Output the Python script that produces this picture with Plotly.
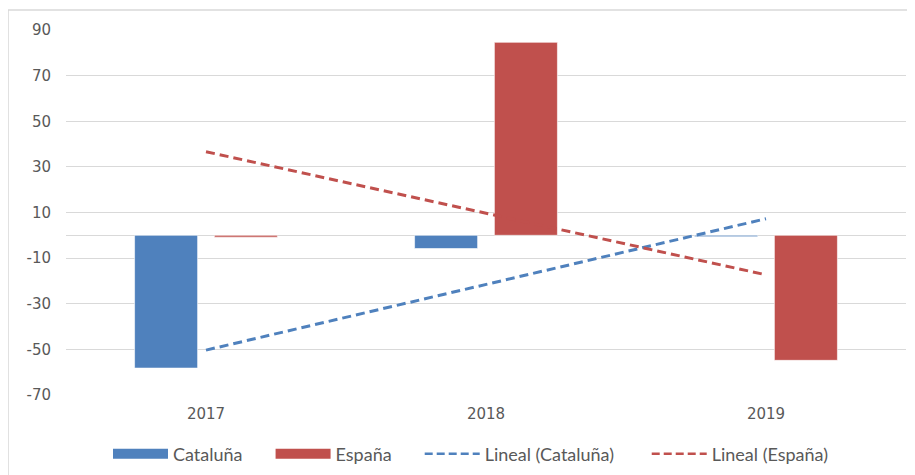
import numpy as np
import plotly.graph_objects as go

YEARS = ["2017", "2018", "2019"]
CATALUNYA = [-58.2, -5.8, -0.6]
ESPANA = [-0.8, 84.6, -54.8]
Y_TICKS = [-70, -50, -30, -10, 10, 30, 50, 70, 90]
Y_TICK_TEXT = ["-70", "-50", "-30", "-10", "10", "30", "50", "70", "90"]

BLUE = "#4F81BD"
RED = "#C0504D"
GRID = "#D9D9D9"
TEXT = "#595959"
NB = "\u00a0"


def trend(values):
    # recta de regresión lineal como la "Línea de tendencia" de Excel
    xs = np.arange(len(values))
    slope, icpt = np.polyfit(xs, values, 1)
    return (slope * xs + icpt).tolist()


fig = go.Figure()

fig.add_trace(go.Bar(
    x=YEARS, y=CATALUNYA, name="Cataluña",
    marker=dict(color=BLUE, line=dict(color="rgba(255,255,255,0.6)", width=1)),
    showlegend=False,
))
fig.add_trace(go.Bar(
    x=YEARS, y=ESPANA, name="España",
    marker=dict(color=RED, line=dict(color="rgba(255,255,255,0.6)", width=1)),
    showlegend=False,
))

fig.add_trace(go.Scatter(
    x=YEARS, y=trend(CATALUNYA), mode="lines", name="Lineal (Cataluña)",
    line=dict(color=BLUE, width=3, dash="9px,5px"), showlegend=False,
))
fig.add_trace(go.Scatter(
    x=YEARS, y=trend(ESPANA), mode="lines", name="Lineal (España)",
    line=dict(color=RED, width=3, dash="9px,5px"), showlegend=False,
))

# entradas de leyenda con muestra ancha, estilo Excel
for name, color, width, dash in [
    ("Cataluña" + NB * 5, BLUE, 10, "solid"),
    ("España" + NB * 5, RED, 10, "solid"),
    ("Lineal (Cataluña)" + NB * 6, BLUE, 2.5, "8px,4px"),
    ("Lineal (España)", RED, 2.5, "8px,4px"),
]:
    fig.add_trace(go.Scatter(
        x=[None], y=[None], mode="lines", name=name,
        line=dict(color=color, width=width, dash=dash),
    ))

fig.add_shape(
    type="rect", xref="paper", yref="paper",
    x0=-0.069, x1=1.2, y0=-0.5, y1=1.055,
    line=dict(color=GRID, width=1.5), fillcolor="rgba(0,0,0,0)",
)

# la página añade 8 px de margen al body: se compensa aquí
fig.update_layout(
    width=907, height=467,
    margin=dict(l=58, r=9, t=22, b=80),
    paper_bgcolor="white", plot_bgcolor="white",
    barmode="group", bargap=0.43, bargroupgap=0.21,
    font=dict(family="DejaVu Sans", size=15, color=TEXT),
    legend=dict(
        orientation="h", x=0.05, xanchor="left",
        yref="container", y=0.045, yanchor="middle",
        font=dict(family="Lato", size=18, color=TEXT),
        itemwidth=55, tracegroupgap=0, bgcolor="rgba(0,0,0,0)",
    ),
)
fig.update_xaxes(
    type="category", showline=False, showgrid=False, ticks="",
    ticklabelstandoff=8, automargin=False,
    tickfont=dict(family="DejaVu Sans", size=15, color=TEXT),
)
fig.update_yaxes(
    range=[-70, 90], tickvals=Y_TICKS, ticktext=Y_TICK_TEXT,
    showgrid=True, gridcolor=GRID, gridwidth=1,
    zeroline=True, zerolinecolor=GRID, zerolinewidth=1, showline=False, ticks="",
    ticklabelstandoff=14, automargin=False,
    tickfont=dict(family="DejaVu Sans", size=15, color=TEXT),
)

fig.write_html("out.html")
